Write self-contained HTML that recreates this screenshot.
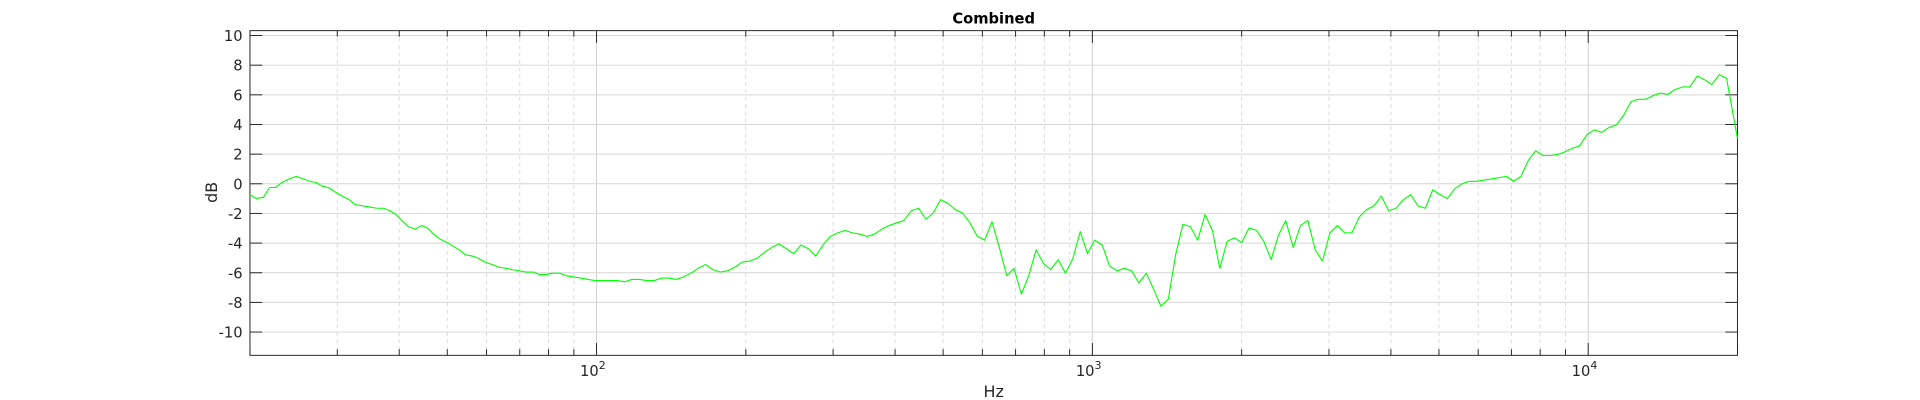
<!DOCTYPE html>
<html><head><meta charset="utf-8"><style>
html,body{margin:0;padding:0;background:#fff;}
svg{display:block;font-family:"DejaVu Sans","Liberation Sans",sans-serif;}
</style></head><body>
<svg id="chart" width="1920" height="400" xmlns="http://www.w3.org/2000/svg"><g id="root" transform="scale(1.2253)"></g></svg>
<script>
const freqs=[20.0,20.6,21.3,21.9,22.5,23.2,24.0,24.8,25.6,26.4,27.2,28.0,28.8,29.8,30.7,31.7,32.6,33.8,34.9,36.1,
37.2,38.3,39.4,40.5,41.7,43.1,44.4,45.6,46.9,48.3,50.0,51.4,52.9,54.4,56.3,57.9,59.6,61.7,63.5,65.7,
67.5,69.9,71.9,74.4,76.6,79.2,81.5,84.3,86.8,89.8,92.9,96.1,99.4,102.9,106.5,110.2,114.0,117.9,122.0,126.2,
130.6,135.2,139.9,144.7,149.7,155.0,160.3,165.9,171.6,177.6,183.7,190.1,196.7,203.5,210.6,217.9,225.5,233.3,241.4,249.7,
258.4,267.4,276.7,286.2,296.2,306.4,317.1,328.1,339.5,351.3,363.5,376.1,389.2,402.7,416.8,431.2,446.2,461.7,477.5,494.2,
511.3,529.1,547.4,566.5,586.2,606.5,627.5,649.3,671.9,695.0,719.2,744.2,770.1,796.8,824.5,853.2,882.7,913.4,945.2,977.5,
1011,1047,1083,1121,1160,1200,1241,1285,1329,1375,1423,1472,1523,1576,1631,1688,1746,1807,1870,1934,
2001,2070,2143,2217,2294,2373,2455,2541,2629,2720,2815,2912,3013,3118,3226,3338,3454,3574,3698,3826,
3959,4096,4239,4386,4538,4695,4858,5027,5201,5383,5569,5762,5962,6169,6383,6606,6835,7072,7317,7571,
7833,8105,8387,8678,8979,9290,9610,9943,10288,10646,11015,11397,11793,12202,12625,13062,13518,13987,14472,14974,
15493,16030,16588,17163,17758,18374,19011,20000];
const dbValues=[-0.74,-0.99,-0.91,-0.25,-0.25,0.08,0.33,0.50,0.33,0.17,0.08,-0.17,-0.25,-0.58,-0.83,-1.07,-1.40,-1.49,-1.57,-1.65,
-1.65,-1.82,-2.07,-2.48,-2.89,-3.06,-2.81,-2.98,-3.39,-3.72,-3.97,-4.21,-4.46,-4.79,-4.88,-5.04,-5.29,-5.45,-5.62,-5.70,
-5.79,-5.87,-5.95,-5.95,-6.12,-6.12,-6.03,-6.03,-6.20,-6.28,-6.36,-6.45,-6.53,-6.53,-6.53,-6.53,-6.61,-6.45,-6.45,-6.53,
-6.53,-6.36,-6.36,-6.45,-6.28,-6.03,-5.70,-5.45,-5.79,-5.95,-5.87,-5.62,-5.29,-5.21,-5.04,-4.63,-4.30,-4.05,-4.38,-4.71,
-4.13,-4.38,-4.88,-4.13,-3.55,-3.31,-3.14,-3.31,-3.39,-3.55,-3.39,-3.06,-2.81,-2.64,-2.48,-1.82,-1.65,-2.40,-1.98,-1.07,
-1.32,-1.74,-1.98,-2.64,-3.55,-3.80,-2.56,-4.30,-6.20,-5.70,-7.44,-6.20,-4.46,-5.37,-5.79,-5.12,-6.03,-5.04,-3.22,-4.71,
-3.80,-4.13,-5.54,-5.87,-5.70,-5.87,-6.69,-6.03,-7.11,-8.26,-7.77,-4.79,-2.73,-2.89,-3.80,-2.07,-3.14,-5.70,-3.88,-3.64,
-3.97,-2.98,-3.14,-3.88,-5.12,-3.47,-2.48,-4.30,-2.81,-2.48,-4.46,-5.21,-3.31,-2.81,-3.31,-3.31,-2.23,-1.74,-1.49,-0.83,
-1.82,-1.65,-1.07,-0.74,-1.49,-1.65,-0.41,-0.74,-0.99,-0.33,0,0.17,0.17,0.25,0.33,0.41,0.50,0.17,0.50,1.57,
2.23,1.90,1.90,1.98,2.15,2.40,2.56,3.31,3.64,3.47,3.80,3.97,4.63,5.54,5.70,5.70,5.95,6.12,6.03,6.36,
6.53,6.53,7.27,7.02,6.69,7.36,7.11,3.06];
const yTicks=[-10,-8,-6,-4,-2,0,2,4,6,8,10];
const xDecades=[100,1000,10000];

const svg=document.getElementById('root');
const NS='http://www.w3.org/2000/svg';
const L=204,R=1418,T=25,B=290;
const xMin=20,xMax=20000,yMin=-11.57,yMax=10.33;
function xs(f){return L+(Math.log10(f)-Math.log10(xMin))/(Math.log10(xMax)-Math.log10(xMin))*(R-L);}
function ys(v){return B-(v-yMin)/(yMax-yMin)*(B-T);}
function mk(tag,attrs,parent){const e=document.createElementNS(NS,tag);for(const k in attrs)e.setAttribute(k,attrs[k]);(parent||svg).appendChild(e);return e;}

const grid=mk('g',{});


for(let d=10;d<=10000;d*=10){for(let m=2;m<=9;m++){const f=d*m;if(f<xMin||f>xMax)continue;const x=xs(f);
const ln=mk('line',{x1:x,x2:x,y1:T,y2:B,stroke:'#d9d9d9','stroke-width':0.8,'stroke-dasharray':'3,3'},grid);

}}
xDecades.forEach(f=>{const x=xs(f);
const ln=mk('line',{x1:x,x2:x,y1:T,y2:B,stroke:'#d0d0d0','stroke-width':0.8},grid);

});
yTicks.forEach(v=>{const y=ys(v);
const ln=mk('line',{x1:L,x2:R,y1:y,y2:y,stroke:'#d6d6d6','stroke-width':0.8},grid);

});

const box=mk('rect',{x:L,y:T,width:R-L,height:B-T,fill:'none',stroke:'#262626','stroke-width':0.8});



const ticks=mk('g',{stroke:'#262626','stroke-width':0.8});


yTicks.forEach(v=>{const y=ys(v);
mk('line',{x1:L,x2:L+10,y1:y,y2:y},ticks);mk('line',{x1:R-10,x2:R,y1:y,y2:y},ticks);
const t=mk('text',{x:L-6,y:y+4.5,'text-anchor':'end','font-size':12,fill:'#262626',stroke:'none'});
t.textContent=v;

});
for(let d=10;d<=10000;d*=10){for(let m=2;m<=9;m++){const f=d*m;if(f<xMin||f>xMax)continue;const x=xs(f);
mk('line',{x1:x,x2:x,y1:B,y2:B-5},ticks);mk('line',{x1:x,x2:x,y1:T,y2:T+5},ticks);}}
xDecades.forEach(f=>{const x=xs(f);
mk('line',{x1:x,x2:x,y1:B,y2:B-10},ticks);mk('line',{x1:x,x2:x,y1:T,y2:T+10},ticks);
const t=mk('text',{x:x-3,y:B+17,'text-anchor':'middle','font-size':12,fill:'#262626',stroke:'none'});


const b=document.createElementNS(NS,'tspan');b.textContent='10';t.appendChild(b);
const s=document.createElementNS(NS,'tspan');s.setAttribute('dy','-6');s.setAttribute('font-size','9');s.textContent=Math.round(Math.log10(f));t.appendChild(s);});

let dpath='';
freqs.forEach((f,i)=>{dpath+=(i?'L':'M')+xs(f).toFixed(2)+','+ys(dbValues[i]).toFixed(2);});
const line=mk('path',{d:dpath,fill:'none',stroke:'#00ff00','stroke-width':0.9,'stroke-linejoin':'round'});



const title=mk('text',{x:(L+R)/2,y:19,'text-anchor':'middle','font-size':12,'font-weight':'bold',fill:'#000'});
title.textContent='Combined';


const xl=mk('text',{x:(L+R)/2,y:324,'text-anchor':'middle','font-size':13,fill:'#262626'});
xl.textContent='Hz';


const yl=mk('text',{x:0,y:0,'text-anchor':'middle','font-size':13,fill:'#262626',transform:'translate(177,157) rotate(-90)'});
yl.textContent='dB';


</script>
</body></html>
